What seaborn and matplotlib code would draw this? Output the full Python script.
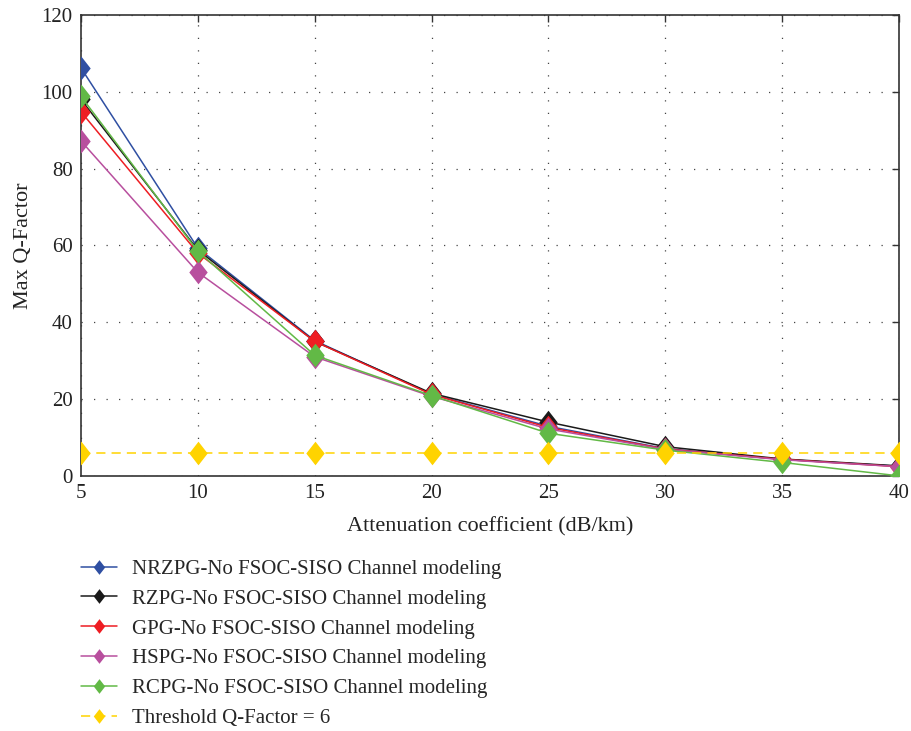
import numpy as np
import pandas as pd
import matplotlib
matplotlib.use("Agg")
import matplotlib.pyplot as plt
import seaborn as sns
from matplotlib.path import Path

# Attenuation coefficients (dB/km)
attenuation = [5, 10, 15, 20, 25, 30, 35, 40]

# Max Q-factor for each pulse generator
nrzpg = [106.2, 59.3, 35.2, 21.3, 12.9, 7.1, 4.3, 2.5]
rzpg = [98.0, 58.8, 35.0, 21.5, 14.0, 7.6, 4.4, 2.6]
gpg = [94.8, 58.0, 35.0, 21.2, 12.6, 7.0, 4.3, 2.4]
hspg = [87.2, 53.0, 31.0, 20.7, 12.2, 6.9, 4.2, 2.4]
rcpg = [98.8, 58.5, 31.4, 20.9, 11.1, 6.7, 3.5, 0.0]
threshold = [6, 6, 6, 6, 6, 6, 6, 6]

series_names = [
    "NRZPG-No FSOC-SISO Channel modeling",
    "RZPG-No FSOC-SISO Channel modeling",
    "GPG-No FSOC-SISO Channel modeling",
    "HSPG-No FSOC-SISO Channel modeling",
    "RCPG-No FSOC-SISO Channel modeling",
    "Threshold Q-Factor = 6",
]
series_values = [nrzpg, rzpg, gpg, hspg, rcpg, threshold]
series_colors = ["#2F4FA2", "#1A1A1A", "#EE1D23", "#B84F9E", "#62B946", "#FFD300"]

sns.set_style("white")
plt.rcParams["font.family"] = ["Liberation Serif", "DejaVu Serif"]

# slightly tall diamond marker
diamond = Path([(0, 1), (0.78, 0), (0, -1), (-0.78, 0), (0, 1)],
               [Path.MOVETO, Path.LINETO, Path.LINETO, Path.LINETO, Path.CLOSEPOLY])

fig = plt.figure(figsize=(9.11, 7.31), dpi=100)
ax = fig.add_axes([0.0889, 0.349, 0.898, 0.6305])

for name, vals, col in zip(series_names, series_values, series_colors):
    df = pd.DataFrame({"x": attenuation, "y": vals})
    dashed = name.startswith("Threshold")
    sns.lineplot(data=df, x="x", y="y", ax=ax, color=col, label=name,
                 marker=diamond, markersize=17, markeredgewidth=0,
                 linewidth=1.1, zorder=4 if dashed else 3)
    if dashed:
        ax.lines[-1].set_dashes([6, 4])

ax.set_xlim(5, 40)
ax.set_ylim(0, 120)
ax.set_xticks(attenuation)
ax.set_yticks([0, 20, 40, 60, 80, 100, 120])
ax.grid(True, color="#444444", linestyle=(0, (1, 9)), linewidth=0.9)
for s in ax.spines.values():
    s.set_color("#333333")
    s.set_linewidth(1.2)
ax.tick_params(direction="in", length=5, width=1.0, color="#333333",
               top=True, right=True, labelsize=15, labelcolor="#222222", pad=6)
ax.set_xlabel("Attenuation coefficient (dB/km)", fontsize=16, color="#222222", labelpad=10)
ax.set_ylabel("Max Q-Factor", fontsize=16, color="#222222", labelpad=6)

handles, labels = ax.get_legend_handles_labels()
ax.get_legend().remove()
fig.legend(handles, labels, loc="upper left", bbox_to_anchor=(0.077, 0.249),
           frameon=False, fontsize=15, handlelength=1.75, handletextpad=0.72,
           labelspacing=0.49, markerscale=0.62, borderpad=0)

fig.savefig("out.png", dpi=100)
